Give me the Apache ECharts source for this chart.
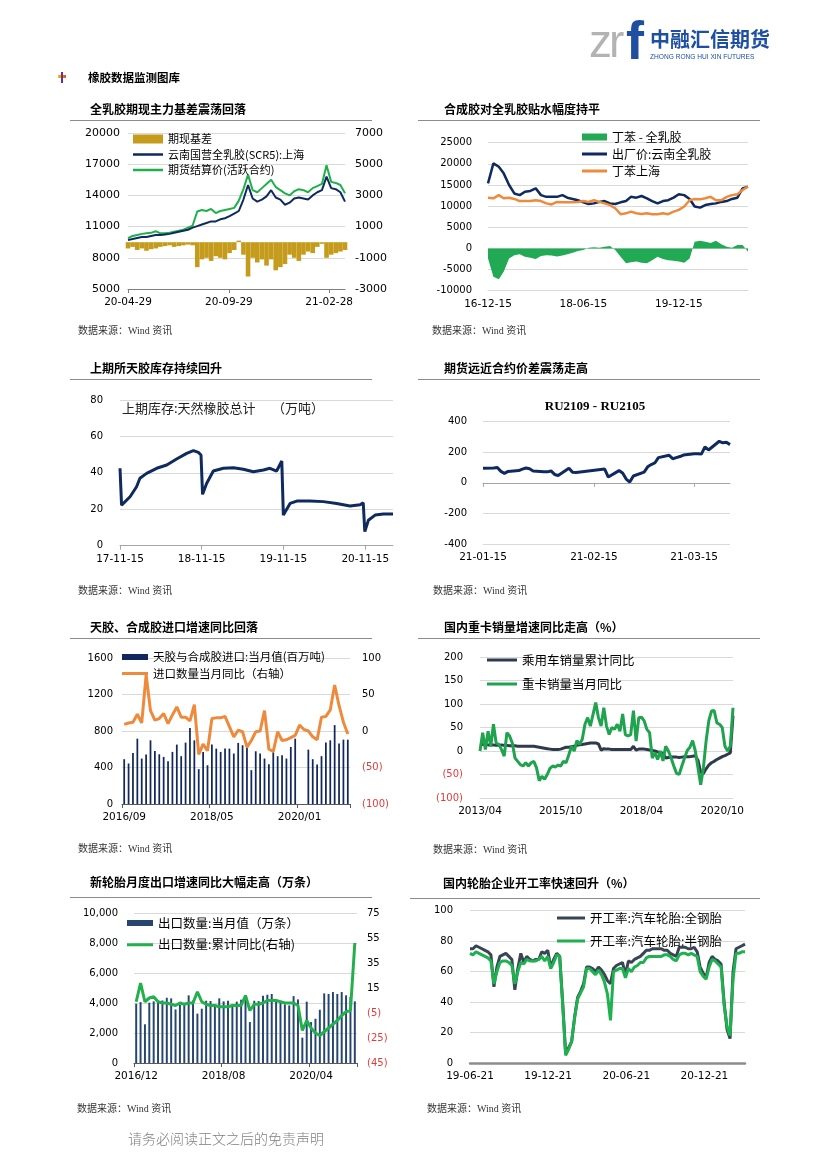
<!DOCTYPE html>
<html><head><meta charset="utf-8">
<script src="https://cdn.jsdelivr.net/npm/echarts@6/dist/echarts.min.js"></script>
<style>
html,body{margin:0;padding:0;background:#fff;}
#page{position:relative;width:826px;height:1169px;overflow:hidden;font-family:'Noto Sans CJK SC',sans-serif;background:#fff;}
#chart{position:absolute;left:0;top:0;width:826px;height:1169px;}
.t{position:absolute;white-space:nowrap;line-height:1;transform:translateY(-50%);color:#000;}
.hl{position:absolute;height:1px;background:#8c8c8c;}
</style></head><body><div id="page"><div id="chart"></div></div>
<script>
// ---------------- DATA ----------------
// Chart 1: 全乳胶期现主力基差 (weekly from 2020-04-29)
const c1Start = '2020-04-29';
const c1Ticks = ['2020-04-29', '2020-09-29', '2021-02-28'];
const c1Basis = [-400,-300,-500,-400,-550,-450,-400,-300,-250,-200,-300,-250,-200,-150,-200,-1600,-1100,-1000,-1200,-900,-1000,-1100,-700,-500,100,-800,-2200,-1000,-1300,-1100,-1500,-1100,-1800,-1600,-1400,-800,-1000,-1200,-800,-600,-700,-300,-100,-1000,-800,-700,-600,-500];
const c1Spot = [9700,9800,9900,10000,10000,10100,10200,10200,10250,10300,10400,10500,10600,10700,10900,11050,11200,11350,11500,11500,11700,11800,12000,12250,12500,13600,15000,13700,13400,13600,13900,14500,13800,13600,13100,13300,13700,13800,13700,13600,14000,14300,14500,15800,14700,14600,14300,13400];
const c1Fut = [9880,10100,10200,10300,10350,10400,10550,10350,10350,10400,10500,10600,10700,10900,11100,12450,12600,12500,12700,12300,12500,12600,12700,12800,13500,14600,16000,14500,14300,14700,15100,15500,14800,14500,14200,14000,14400,14600,14500,14300,14700,14900,15100,16900,15300,15200,15000,14200];

// Chart 2: 合成胶 vs 全乳胶 (monthly from 2016-12-15)
const c2Start = [2016, 12, 15];
const c2Ticks = ['2016-12-15', '2018-06-15', '2019-12-15'];
const c2Spread = [-2400,-6700,-7300,-5500,-2400,-1600,-1400,-2000,-2200,-2500,-1800,-1600,-1700,-1900,-1700,-1400,-1000,-600,-400,150,250,150,400,600,-400,-2000,-3500,-3300,-3100,-3400,-3500,-2800,-2000,-2500,-2800,-2900,-3100,-3400,-2400,1600,1800,1600,1300,1800,1000,400,150,800,800,-800];
const c2Natural = [15380,20100,19300,17750,15000,13000,12600,13400,13600,14200,12600,12200,12200,12200,12600,12000,11700,11400,10900,10500,10650,11000,11200,10650,10500,10900,11200,12200,12000,12400,11850,11200,10650,11200,11400,12000,12800,12600,11700,9900,9650,10250,10500,10650,11000,11200,11700,12000,14200,14600];
const c2SBR = [12000,11850,12600,11850,12000,11700,11200,11200,11200,11400,11200,10650,10400,11000,10900,10900,10900,11000,11200,11000,11400,11000,10650,10250,9500,8100,8300,8700,8300,8150,8300,8100,8100,8300,8100,8700,9100,9900,11400,11700,11600,11850,12200,11400,11400,12200,12600,12800,13800,14600];

// Chart 3: 上期所天胶库存 (万吨)
const c3Dates = ['2017-11-15','2017-11-22','2017-12-30','2018-01-28','2018-02-12','2018-03-14','2018-04-28','2018-06-12','2018-07-26','2018-09-09','2018-10-09','2018-10-31','2018-11-12','2018-11-19','2018-12-07','2019-01-06','2019-02-20','2019-04-06','2019-05-20','2019-07-04','2019-08-18','2019-09-16','2019-10-16','2019-11-08','2019-11-15','2019-12-15','2020-01-14','2020-03-13','2020-05-12','2020-07-10','2020-09-08','2020-10-23','2020-11-06','2020-11-13','2020-11-29','2020-12-29','2021-02-04','2021-03-19'];
const c3Inv = [42.5,22.3,26.9,32.4,37,39.7,42.5,44.3,47.6,50.7,52.2,51.2,49.8,28.2,34.2,41,42.5,42.8,42,40.6,41.6,42.5,41,46.5,16.8,23.2,24.5,24.5,24.2,23.2,21.8,22.5,23.6,7.7,14,16.8,17.4,17.4];
const c3Ticks = ['2017-11-15','2018-11-15','2019-11-15','2020-11-15'];

// Chart 4: RU2109 - RU2105
const c4Dates = ['2021-01-15','2021-01-18','2021-01-19','2021-01-20','2021-01-21','2021-01-22','2021-01-25','2021-01-26','2021-01-27','2021-01-28','2021-01-29','2021-02-01','2021-02-02','2021-02-03','2021-02-04','2021-02-05','2021-02-08','2021-02-09','2021-02-10','2021-02-18','2021-02-19','2021-02-22','2021-02-23','2021-02-24','2021-02-25','2021-02-26','2021-03-01','2021-03-02','2021-03-03','2021-03-04','2021-03-05','2021-03-08','2021-03-09','2021-03-10','2021-03-11','2021-03-12','2021-03-15','2021-03-16','2021-03-17','2021-03-18','2021-03-19','2021-03-22','2021-03-23','2021-03-24','2021-03-25'];
const c4Spread = [95,97,100,75,62,75,80,90,97,92,78,72,72,78,55,48,95,70,68,90,38,80,65,25,5,45,70,105,120,130,165,180,158,165,172,182,190,190,188,235,215,272,262,265,250];
const c4Ticks = ['2021-01-15','2021-02-15','2021-03-15'];

// Chart 5: 天胶、合成胶进口 (monthly from 2016/09)
const c5Start = [2016, 9];
const c5Import = [491,444,560,716,498,542,698,582,545,516,469,571,651,524,673,833,698,382,571,425,651,607,571,607,607,553,669,644,618,371,578,553,498,436,567,524,535,498,625,716,null,null,596,491,433,524,673,698,865,662,705,705];
const c5Yoy = [9,11,12,23,11,77,28,15,17,24,10,22,33,19,19,14,36,-32,-18,-27,17,18,18,20,6,-8,1,-1,-22,-13,-1,0,28,-25,-28,-1,-13,-12,-9,-6,8,2,0,-8,-12,19,20,29,63,35,12,-4];

// Chart 6: 国内重卡销量 (monthly from 2013/04)
const c6Start = [2013, 4];
const c6Car = [15,14,14,13,13,13,12,12,13, 12,12,11,11,11,10,10,10,10,10,10,10, 9,8,7,6,5,4,3,3,3,4,6,8, 8,9,10,12,13,14,15,16,17,17,17,15, 2,5,4,4,3,3,3,3,3,3,3,3, 10,2,4,4,4,3,2,1,0,-2,-3,-5, -15,-14,-13,-13,-13,-14,-13,-12,-12,-12,-11,-10, -20,-45,-48,-38,-30,-25,-22,-18,-15,-12,-10,-7, -4,75];
const c6Truck = [0,39,3,42,10,57,17,14,3,-11,39,32,17,-15,-22,-29,-32,-25,-32,-25,-22,-36,-63,-54,-60,-50,-37,-32,-34,-30,-32,-22,-25,-8,10,0,22,14,25,57,71,53,78,103,71,53,92,53,35,50,46,57,42,79,35,32,35,86,21,71,72,64,46,39,-15,-4,-18,0,-21,10,0,-15,-32,-47,-50,-32,-15,1,8,22,0,-36,-72,-36,21,64,85,86,60,57,50,10,0,10,92];

// Chart 7: 新轮胎出口 (monthly from 2016/12)
const c7Start = [2016, 12];
const c7Export = [3950,4060,2580,4020,4110,4060,4170,4350,4310,3570,3890,4000,4510,4170,3290,3620,4150,4130,3890,4310,4110,4150,3910,4090,4220,4440,2730,4150,4130,4490,4550,4600,4170,4060,3910,3840,4460,4240,1690,4090,2730,2950,3550,4640,4600,4730,4600,4730,4510,4400,4110];
const c7Yoy = [4,19,4,7,8,4,3,3,2,1,3,2,3,3,12,4,2,1,1,0,0,0,1,1,1,9,-3,2,2,3,5,5,5,4,3,3,3,1,-19,-11,-17,-21,-23,-20,-17,-14,-11,-7,-4,-3,51];

// Chart 8: 轮胎开工率 (weekly from 2019-06-21)
const c8Start = '2019-06-21';
const c8Ticks = ['2019-06-21','2019-12-21','2020-06-21','2020-12-21'];
const c8Steel = [75,75,77,76,75,74,73,71,50,63,70,71,72,70,68,48,62,72,66,70,68,67,68,68,73,72,74,63,68,72,70,40,6,10,14,30,43,47,52,63,63,62,60,63,61,58,54,52,62,64,65,66,58,67,66,68,69,70,72,74,74,75,75,75,75,74,74,72,71,70,76,76,76,75,75,76,73,63,59,56,66,70,68,67,65,40,22,16,60,75,76,77,78];
const c8Semi = [72,71,73,72,71,70,69,67,52,60,66,67,67,66,64,52,60,66,65,68,67,67,67,68,70,67,70,62,66,71,70,38,5,9,14,30,42,46,50,62,62,60,58,61,58,53,45,28,60,61,62,62,56,62,60,63,64,66,66,69,70,70,70,70,70,71,71,70,68,67,71,72,72,71,72,71,70,60,57,55,63,68,67,65,63,38,24,18,55,72,72,73,73];

// ---------------- PAGE TEXT ----------------
const page = document.getElementById('page');
function txt(s, x, y, size, o){
  o=o||{};
  const e=document.createElement('div');e.className='t';e.textContent=s;
  e.style.left=x+'px';e.style.top=y+'px';e.style.fontSize=size+'px';
  if(o.w)e.style.fontWeight=o.w;if(o.c)e.style.color=o.c;if(o.f)e.style.fontFamily=o.f;
  if(o.center){e.style.transform='translate(-50%,-50%)';}
  if(o.ls)e.style.letterSpacing=o.ls;
  page.appendChild(e);return e;
}
function hline(x1,x2,y){const e=document.createElement('div');e.className='hl';e.style.left=x1+'px';e.style.top=y+'px';e.style.width=(x2-x1)+'px';page.appendChild(e);}

txt('zr',589,41,46,{c:'#b3b3b3',f:'Liberation Sans',ls:'-3px'});
txt('f',626,40,54,{c:'#1e4fa0',f:'Liberation Sans',w:'bold'});
txt('中融汇信期货',650,39,20,{c:'#1e4fa0',w:'bold'});
txt('ZHONG RONG HUI XIN FUTURES',650,57,6.6,{c:'#1e4fa0',f:'Liberation Sans'});
(function(){const a=document.createElement('div');a.style.cssText='position:absolute;left:58px;top:75px;width:8px;height:3px;background:linear-gradient(90deg,#f5c400,#e04a2a);';page.appendChild(a);
const b=document.createElement('div');b.style.cssText='position:absolute;left:61px;top:72px;width:2px;height:11px;background:#6a2a9a;';page.appendChild(b);})();
txt('橡胶数据监测图库',88,78,11.5,{w:'bold'});

const TT = {w:'bold'};
txt('全乳胶期现主力基差震荡回落',90,109,12,TT);
txt('合成胶对全乳胶贴水幅度持平',444,109,12,TT);
txt('上期所天胶库存持续回升',90,368,12,TT);
txt('期货远近合约价差震荡走高',444,368,12,TT);
txt('天胶、合成胶进口增速同比回落',90,627,12,TT);
txt('国内重卡销量增速同比走高（%）',444,627,12,TT);
txt('新轮胎月度出口增速同比大幅走高（万条）',90,882,12,TT);
txt('国内轮胎企业开工率快速回升（%）',443,883,12,TT);
hline(70,372,120); hline(418,760,120);
hline(70,372,379); hline(418,760,379);
hline(70,372,638); hline(418,760,638);
hline(70,372,897); hline(410,760,898);

const SRC={c:'#333',f:"'Liberation Serif','Noto Sans CJK SC'"};
txt('数据来源：Wind 资讯',78,331,10,SRC); txt('数据来源：Wind 资讯',432,331,10,SRC);
txt('数据来源：Wind 资讯',78,591,10,SRC); txt('数据来源：Wind 资讯',433,591,10,SRC);
txt('数据来源：Wind 资讯',78,849,10,SRC); txt('数据来源：Wind 资讯',433,850,10,SRC);
txt('数据来源：Wind 资讯',77,1109,10,SRC); txt('数据来源：Wind 资讯',427,1109,10,SRC);

txt('上期库存:天然橡胶总计',122,407,13,{c:'#222'});
txt('（万吨）',272,407,13,{c:'#222'});
txt('RU2109 - RU2105',595,405,13,{w:'bold',f:'Liberation Serif',center:true});
txt('请务必阅读正文之后的免责声明',128,1138,14,{c:'#7f7f7f',w:'300'});

// ---------------- HELPERS ----------------
const DAY = 86400000;
function ts(s){const p=s.split('-');return new Date(+p[0],+p[1]-1,+p[2]).getTime();}
function weekly(start,n){const t0=ts(start);const o=[];for(let i=0;i<n;i++)o.push(t0+i*7*DAY);return o;}
function monthlyDates(y,m,d,n){const o=[];for(let i=0;i<n;i++)o.push(new Date(y,m-1+i,d).getTime());return o;}
function monthCats(y,m,n){const o=[];for(let i=0;i<n;i++){const dt=new Date(y,m-1+i,1);o.push(dt.getFullYear()+'/'+String(dt.getMonth()+1).padStart(2,'0'));}return o;}
function zip(a,b){return a.map((x,i)=>[x,b[i]]);}
function fmtDate(v){const d=new Date(v);return String(d.getFullYear()).slice(2)+'-'+String(d.getMonth()+1).padStart(2,'0')+'-'+String(d.getDate()).padStart(2,'0');}

const d1 = weekly(c1Start, c1Spot.length);
const d2 = monthlyDates(c2Start[0], c2Start[1], c2Start[2], c2Natural.length);
const d3 = c3Dates.map(ts);
const d4 = c4Dates.map(ts);
const cat5 = monthCats(c5Start[0], c5Start[1], c5Import.length);
const cat6 = monthCats(c6Start[0], c6Start[1], c6Truck.length);
const cat7 = monthCats(c7Start[0], c7Start[1], c7Export.length);
const d8 = weekly(c8Start, c8Steel.length);

const NUMF = 'DejaVu Sans';
const CJK = 'Noto Sans CJK SC';
const GRID_C = '#d9d9d9';
const NAVY = '#0f2a5e';

// legend icon for line series: a thin bar centred in a w x h box
function lineIcon(w,h,t){const y=(h-t)/2;return 'path://M0,0h0.01v0.01h-0.01zM'+(w-0.01)+','+(h-0.01)+'h0.01v0.01h-0.01zM0,'+y+'h'+w+'v'+t+'h-'+w+'z';}

function plain(v){return String(v);}
function yLab(size, margin, extra){return Object.assign({fontFamily:NUMF,fontSize:size,color:'#000',margin:margin,formatter:plain},extra||{});}
function redParen(size){return {formatter:function(v){return v<0?'{r|('+(-v)+')}':String(v);},rich:{r:{color:'#e03c3c',fontFamily:NUMF,fontSize:size}}};}
function yAxis(grid, min, max, interval, lab, opts){
  return Object.assign({type:'value',gridIndex:grid,min:min,max:max,interval:interval,
    axisLine:{show:false},axisTick:{show:false},
    splitLine:{show:true,lineStyle:{color:GRID_C,width:1}},
    axisLabel:lab},opts||{});
}
// date axis drawn as a value axis of timestamps, labelled only at the given tick dates
function timeAxis(grid, dates, ticks, lineColor, opts){
  const cv = ticks.map(ts);
  return Object.assign({type:'value',gridIndex:grid,min:dates[0],max:dates[dates.length-1],scale:true,
    splitLine:{show:false},
    axisLine:{show:true,onZero:false,lineStyle:{color:lineColor,width:1}},
    axisTick:{show:true,customValues:cv,length:4,lineStyle:{color:lineColor}},
    axisLabel:{customValues:cv,formatter:fmtDate,fontFamily:NUMF,fontSize:10.5,color:'#000',margin:8,hideOverlap:false}},opts||{});
}
function catAxis(grid, cats, every, boundary, lineColor, tick, opts){
  const f = function(i){return i%every===0;};
  return Object.assign({type:'category',gridIndex:grid,data:cats,boundaryGap:boundary,
    splitLine:{show:false},
    axisLine:{show:true,onZero:false,lineStyle:{color:lineColor,width:1}},
    axisTick:{show:tick,interval:f,length:4,alignWithLabel:false,lineStyle:{color:lineColor}},
    axisLabel:{interval:f,fontFamily:NUMF,fontSize:10.5,color:'#000',margin:8}},opts||{});
}
function legend(left, top, items, iw, ih, gap, fs, lineT){
  const data = items.map(function(it){return it.bar?{name:it.name,icon:'rect'}:{name:it.name,icon:lineIcon(iw,ih,lineT)};});
  return {left:left,top:top,orient:'vertical',padding:0,itemWidth:iw,itemHeight:ih,itemGap:gap,
    selectedMode:false,data:data,
    textStyle:{fontFamily:CJK,fontSize:fs,color:'#000',lineHeight:16}};
}
function line(name, xi, yi, data, color, width, extra){
  return Object.assign({name:name,type:'line',xAxisIndex:xi,yAxisIndex:yi,data:data,symbol:'none',
    lineStyle:{color:color,width:width},itemStyle:{color:color},z:3},extra||{});
}

const option = {
  animation:false,
  grid:[
    {left:128,top:133,width:217,height:156},
    {left:488,top:142.7,width:260,height:148},
    {left:120,top:400,width:273,height:145.7},
    {left:483,top:421.7,width:247,height:122.3},
    {left:122,top:658,width:228,height:146},
    {left:480,top:657,width:253,height:141},
    {left:134,top:913,width:223,height:150},
    {left:470,top:910.7,width:275,height:152.3}
  ],
  xAxis:[
    timeAxis(0,d1,c1Ticks,'#7f7f7f'),
    timeAxis(1,d2,c2Ticks,GRID_C,{axisTick:{show:false}}),
    timeAxis(2,d3,c3Ticks,'#a6a6a6'),
    timeAxis(3,d4,c4Ticks,'#a6a6a6',{axisLine:{show:true,onZero:true,lineStyle:{color:'#a6a6a6'}}}),
    catAxis(4,cat5,20,true,'#595959',true),
    catAxis(5,cat6,30,false,GRID_C,false),
    catAxis(6,cat7,20,true,'#595959',true),
    timeAxis(7,d8,c8Ticks,'#8c8c8c',{axisLine:{show:true,onZero:false,lineStyle:{color:'#8c8c8c',width:2.5}},axisTick:{show:false}})
  ],
  yAxis:[
    yAxis(0,5000,20000,3000,yLab(11,8)),
    yAxis(0,-3000,7000,2000,yLab(11,10),{position:'right',splitLine:{show:false}}),
    yAxis(1,-10000,25000,5000,yLab(10,16)),
    yAxis(2,0,80,20,yLab(10,17)),
    yAxis(3,-400,400,200,yLab(10,16)),
    yAxis(4,0,1600,400,yLab(10,9)),
    yAxis(4,-100,100,50,yLab(10,12,redParen(10)),{position:'right',splitLine:{show:false}}),
    yAxis(5,-100,200,50,yLab(10,17,redParen(10))),
    yAxis(6,0,10000,2000,yLab(10,16,{formatter:function(v){return v.toLocaleString('en-US');}})),
    yAxis(6,-45,75,20,yLab(10,10,redParen(10)),{position:'right',splitLine:{show:false}}),
    yAxis(7,0,100,20,yLab(10,17))
  ],
  legend:[
    legend(133,131,[{name:'期现基差',bar:true},{name:'云南国营全乳胶(SCR5):上海'},{name:'期货结算价(活跃合约)'}],30,9,-0.5,11,2.5),
    legend(582,129,[{name:'丁苯 - 全乳胶',bar:true},{name:'出厂价:云南全乳胶'},{name:'丁苯上海'}],25,7,1,12,3),
    legend(122,649,[{name:'天胶与合成胶进口:当月值(百万吨)',bar:true},{name:'进口数量当月同比（右轴）'}],26,6,0.5,11.5,3),
    legend(487,652,[{name:'乘用车销量累计同比'},{name:'重卡销量当月同比'}],30,6,8,12.5,3),
    legend(127,915,[{name:'出口数量:当月值（万条）',bar:true},{name:'出口数量:累计同比(右轴)'}],26,6,5.7,12.5,3),
    legend(557,910,[{name:'开工率:汽车轮胎:全钢胎'},{name:'开工率:汽车轮胎:半钢胎'}],28,6,7,12.5,3)
  ],
  series:[
    {name:'期现基差',type:'bar',xAxisIndex:0,yAxisIndex:1,data:zip(d1,c1Basis),barWidth:4.6,itemStyle:{color:'#c49b1a'},z:2},
    line('期货结算价(活跃合约)',0,0,zip(d1,c1Fut),'#20b04b',2),
    line('云南国营全乳胶(SCR5):上海',0,0,zip(d1,c1Spot),NAVY,2),

    line('丁苯 - 全乳胶',1,2,zip(d2,c2Spread),'#21a954',0,{areaStyle:{color:'#21a954',opacity:1},z:2}),
    line('出厂价:云南全乳胶',1,2,zip(d2,c2Natural),NAVY,2.5),
    line('丁苯上海',1,2,zip(d2,c2SBR),'#ee8a3c',2.5),

    line('上期库存:天然橡胶总计',2,3,zip(d3,c3Inv),NAVY,3),

    line('RU2109 - RU2105',3,4,zip(d4,c4Spread),NAVY,3),

    {name:'天胶与合成胶进口:当月值(百万吨)',type:'bar',xAxisIndex:4,yAxisIndex:5,data:c5Import,barWidth:'40%',itemStyle:{color:'#12285c'}},
    line('进口数量当月同比（右轴）',4,6,c5Yoy,'#ee8a3c',3),

    line('乘用车销量累计同比',5,7,c6Car,'#2f3a4c',3),
    line('重卡销量当月同比',5,7,c6Truck,'#1fa34e',3),

    {name:'出口数量:当月值（万条）',type:'bar',xAxisIndex:6,yAxisIndex:8,data:c7Export,barWidth:'45%',itemStyle:{color:'#26456f'}},
    line('出口数量:累计同比(右轴)',6,9,c7Yoy,'#22b04c',3),

    line('开工率:汽车轮胎:全钢胎',7,10,zip(d8,c8Steel),'#394455',3),
    line('开工率:汽车轮胎:半钢胎',7,10,zip(d8,c8Semi),'#1fb04f',3)
  ]
};
const chart = echarts.init(document.getElementById('chart'), null, {renderer:'canvas'});
chart.setOption(option);
</script></body></html>
